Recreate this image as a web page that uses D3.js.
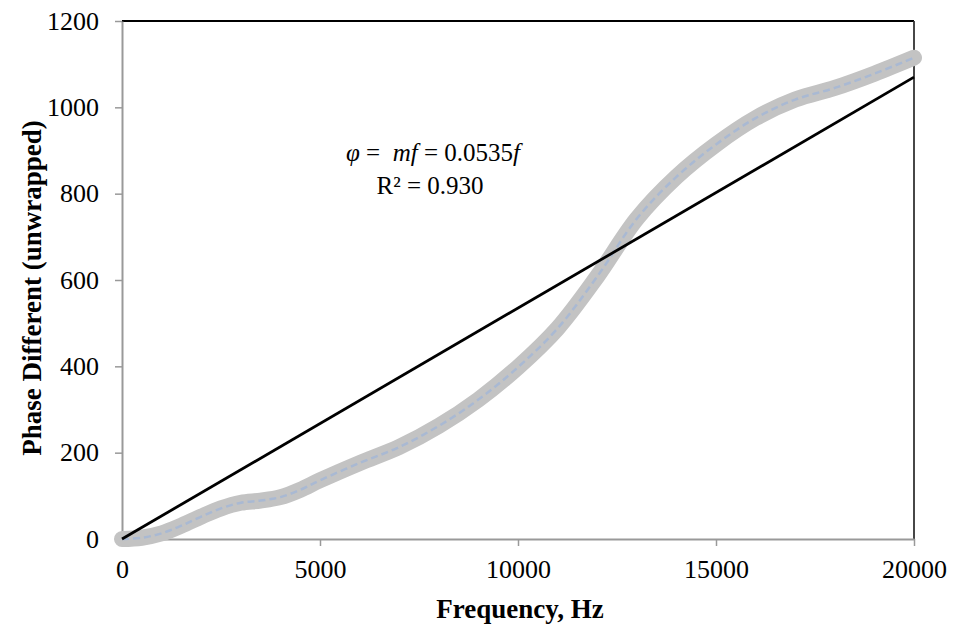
<!DOCTYPE html>
<html>
<head>
<meta charset="utf-8">
<script src="https://cdn.jsdelivr.net/npm/d3@7"></script>
<style>
  body { margin: 0; background: #fff; }
  text { font-family: "Liberation Serif", "Times New Roman", serif; fill: #000; }
</style>
</head>
<body>
<svg id="chart" width="953" height="627"></svg>
<script>
// measured phase (unwrapped) vs frequency
var freq  = [0, 500, 1000, 1500, 2000, 2500, 3000, 3500, 4000, 4500, 5000, 6000, 7000, 8000, 9000,
             10000, 11000, 12000, 13000, 14000, 15000, 16000, 17000, 18000, 19000, 20000];
var phase = [0, 3, 13, 31, 52, 71, 84, 89, 97, 114, 136, 176, 213, 262, 323,
             398, 488, 608, 742, 839, 914, 975, 1018, 1045, 1078, 1115];

// linear fit  phi = m f
var slope = 0.0535;
var fitX = [0, 20000];

var xTicks = [0, 5000, 10000, 15000, 20000];
var yTicks = [0, 200, 400, 600, 800, 1000, 1200];

var svg = d3.select("#chart"),
    plotL = 122, plotR = 914, plotT = 21, plotB = 539;

var x = d3.scaleLinear().domain([0, 20000]).range([plotL, plotR]),
    y = d3.scaleLinear().domain([0, 1200]).range([plotB, plotT]);

// frame: top and right dark, left/bottom gray axes
svg.append("line").attr("x1", plotL).attr("x2", plotR).attr("y1", plotT).attr("y2", plotT)
    .attr("stroke", "#000").attr("stroke-width", 2);
svg.append("line").attr("x1", plotR).attr("x2", plotR).attr("y1", plotT).attr("y2", plotB)
    .attr("stroke", "#333").attr("stroke-width", 1.8);

var yAxis = svg.append("g")
    .attr("transform", "translate(" + plotL + ",0)")
    .call(d3.axisLeft(y).tickValues(yTicks).tickFormat(d3.format("d"))
          .tickSize(7).tickPadding(16).tickSizeOuter(0));
var xAxis = svg.append("g")
    .attr("transform", "translate(0," + plotB + ")")
    .call(d3.axisBottom(x).tickValues(xTicks).tickFormat(d3.format("d"))
          .tickSize(7).tickPadding(14).tickSizeOuter(0));

[xAxis, yAxis].forEach(function(ax) {
  ax.select(".domain").attr("stroke", "#999").attr("stroke-width", 2);
  ax.selectAll(".tick line").attr("stroke", "#999").attr("stroke-width", 1.5);
  ax.selectAll("text").attr("font-size", 26).attr("font-family", "Liberation Serif").attr("fill", "#111");
});

// data curve
var pts = freq.map(function(f, i) { return [f, phase[i]]; });
var line = d3.line()
    .x(function(d) { return x(d[0]); })
    .y(function(d) { return y(d[1]); })
    .curve(d3.curveCatmullRom.alpha(0.5));

svg.append("path").datum(pts)
    .attr("d", line)
    .attr("fill", "none")
    .attr("stroke", "#c3c3c3")
    .attr("stroke-width", 16)
    .attr("stroke-linecap", "round")
    .attr("stroke-linejoin", "round");

svg.append("path").datum(pts)
    .attr("d", line)
    .attr("fill", "none")
    .attr("stroke", "#a9b9d3")
    .attr("stroke-width", 2.5)
    .attr("stroke-dasharray", "7,4");

// fit line
svg.append("line")
    .attr("x1", x(fitX[0])).attr("y1", y(slope * fitX[0]))
    .attr("x2", x(fitX[1])).attr("y2", y(slope * fitX[1]))
    .attr("stroke", "#000").attr("stroke-width", 2.8);

// equation
var eq = svg.append("text").attr("x", 433).attr("y", 161)
    .attr("text-anchor", "middle").attr("font-size", 25)
    .attr("xml:space", "preserve").style("white-space", "pre");
eq.append("tspan").attr("font-style", "italic").text("φ");
eq.append("tspan").text(" =  ");
eq.append("tspan").attr("font-style", "italic").text("mf");
eq.append("tspan").text(" = " + slope);
eq.append("tspan").attr("font-style", "italic").text("f");

svg.append("text").attr("x", 430).attr("y", 194)
    .attr("text-anchor", "middle").attr("font-size", 25)
    .text("R² = 0.930");

// axis titles
svg.append("text").attr("x", 520).attr("y", 618)
    .attr("text-anchor", "middle").attr("font-size", 27).attr("font-weight", "bold")
    .text("Frequency, Hz");

svg.append("text")
    .attr("transform", "translate(41,288) rotate(-90)")
    .attr("text-anchor", "middle").attr("font-size", 27).attr("font-weight", "bold")
    .text("Phase Different (unwrapped)");
</script>
</body>
</html>
